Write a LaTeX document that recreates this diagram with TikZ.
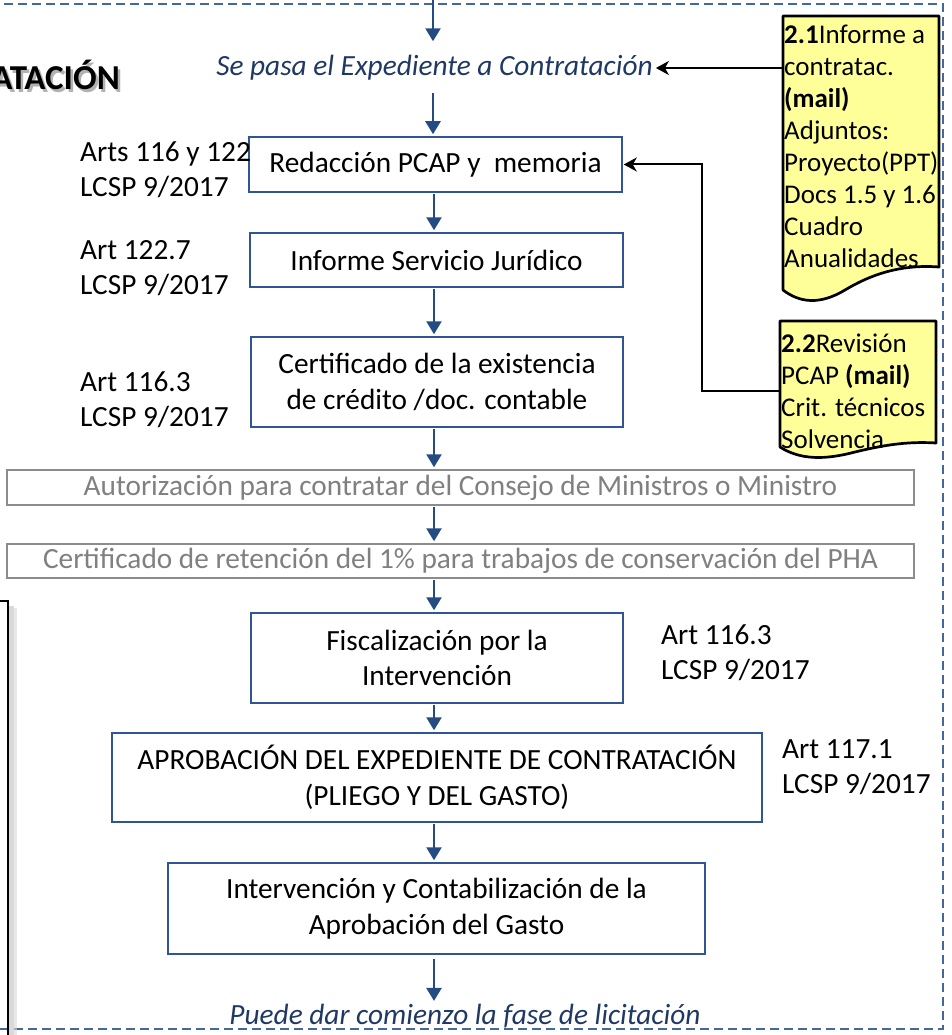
\documentclass[tikz,border=0pt]{standalone}
\usepackage{fontspec}
\setmainfont{Carlito}
\usetikzlibrary{arrows.meta,calc}
\definecolor{frameblue}{RGB}{68,104,155}
\definecolor{arrowblue}{RGB}{36,75,130}
\definecolor{boxblue}{RGB}{47,85,151}
\definecolor{textblue}{RGB}{31,56,100}
\definecolor{docyellow}{RGB}{255,255,153}
\definecolor{graytext}{RGB}{128,128,128}
\definecolor{grayline}{RGB}{140,140,140}
\newcommand\fsmain{\fontsize{29.3}{35.5}\selectfont}
\newcommand\fsdoc{\fontsize{27}{32}\selectfont}
\newcommand\fsgray{\fontsize{29.3}{35}\selectfont}
\begin{document}
\begin{tikzpicture}[x=1pt,y=-1pt,
  box/.style={draw=boxblue,line width=1.5pt,fill=white,inner sep=0pt,align=center,font=\fsmain},
  gbox/.style={draw=grayline,line width=1.5pt,fill=white,inner sep=0pt,align=center,font=\fsgray,text=graytext},
  lab/.style={font=\fsmain,align=flush left,inner sep=0pt,anchor=base west,text width=200pt},
  doctext/.style={font=\fsdoc,align=flush left,inner sep=0pt,anchor=base west,text width=170pt},
  docshape/.style={fill=docyellow,draw=black,line width=2.7pt,line join=round},
  note/.style={font=\fsmain\itshape,text=textblue,inner sep=0pt},
  barrow/.style={draw=arrowblue,line width=2.5pt,-{Triangle[length=13pt,width=15pt]}},
  blk/.style={draw=black,line width=2pt,-{Stealth[length=13pt,width=14pt,inset=4pt]}}]
\useasboundingbox (0,0) rectangle (951,1035);

% dashed frame
\draw[frameblue,line width=2.3pt,dash pattern=on 9pt off 5pt] (-10,4) -- (943,4) -- (943,1029) -- (-10,1029);

% left black box (cut off)
\fill[black!25,opacity=0.6] (8,606) rectangle (14,1040);
\fill[black!15,opacity=0.6] (14,608) rectangle (17,1040);
\draw[black,line width=2pt] (-20,601) -- (8,601) -- (8,1040);

% title fragment
\node[font=\fontsize{35}{40}\selectfont\bfseries,text=black!30,anchor=east,inner sep=0pt] (titleshadow) at (122.5,77.5) {ATACIÓN};
\node[font=\fontsize{35}{40}\selectfont\bfseries,anchor=east,inner sep=0pt] (title) at (120,75) {ATACIÓN};

% documents
\draw[docshape] (783,16) -- (939,16) -- (939,267) .. controls (900,264) and (870,275) .. (845,290) .. controls (820,305) and (800,303) .. (783,290) -- cycle;
\draw[docshape] (780,321) -- (936,321) -- (936,443) .. controls (905,441) and (880,446) .. (855,452) .. controls (825,460) and (800,460) .. (780,447) -- cycle;
\node[doctext] (d21) at (784,44) {\textbf{2.1}Informe a\\contratac.\\\textbf{(mail)}\\Adjuntos:\\Proyecto(PPT)\\Docs 1.5 y 1.6\\Cuadro\\Anualidades};
\node[doctext] (d22) at (781,352) {\textbf{2.2}Revisión\\PCAP \textbf{(mail)}\\Crit. técnicos\\Solvencia};

% flow
\coordinate (ax) at (434,0);
\coordinate (topin) at (433,0);
\coordinate (bend) at (702,0);
\node[note] (sepasa) at (434.5,68) {Se pasa el Expediente a Contratación};
\node[box,minimum width=373,minimum height=55] (red) at (435.5,164.5) {Redacción PCAP y\ \ memoria};
\node[box,minimum width=373,minimum height=54] (inf) at (436.5,260) {Informe Servicio Jurídico};
\node[box,minimum width=372,minimum height=90] (cert) at (437,382) {Certificado de la existencia\\de crédito /doc. contable};
\node[gbox,minimum width=907,minimum height=35] (aut) at (460.5,487.5) {Autorización para contratar del Consejo de Ministros o Ministro};
\node[gbox,minimum width=907,minimum height=34] (ret) at (460.5,561) {Certificado de retención del 1\% para trabajos de conservación del PHA};
\node[box,minimum width=372,minimum height=90] (fis) at (437,658) {Fiscalización por la\\Intervención};
\node[box,minimum width=650,minimum height=89] (apr) at (437,777.5) {APROBACIÓN DEL EXPEDIENTE DE CONTRATACIÓN\\(PLIEGO Y DEL GASTO)};
\node[box,minimum width=537,minimum height=91] (intc) at (436.5,908.5) {Intervención y Contabilización de la\\Aprobación del Gasto};
\node[note] (puede) at (465,1016) {Puede dar comienzo la fase de licitación};

% labels
\node[lab] (l1) at (80,161) {Arts 116 y 122\\LCSP 9/2017};
\node[lab] (l2) at (80,259) {Art 122.7\\LCSP 9/2017};
\node[lab] (l3) at (80,391) {Art 116.3\\LCSP 9/2017};
\node[lab] (l4) at (661,644) {Art 116.3\\LCSP 9/2017};
\node[lab] (l5) at (782,758) {Art 117.1\\LCSP 9/2017};

% blue arrows
\draw[barrow,shorten >=14pt] (topin) -- (sepasa.north -| topin);
\draw[barrow,shorten <=12pt,shorten >=2pt] (sepasa.south -| topin) -- (red.north -| topin);
\draw[barrow,shorten <=1pt,shorten >=2pt] (red.south -| ax) -- (inf.north -| ax);
\draw[barrow,shorten <=1pt,shorten >=2pt] (inf.south -| ax) -- (cert.north -| ax);
\draw[barrow,shorten <=1pt,shorten >=2pt] (cert.south -| ax) -- (aut.north -| ax);
\draw[barrow,shorten <=1pt,shorten >=2pt] (aut.south -| ax) -- (ret.north -| ax);
\draw[barrow,shorten <=1pt,shorten >=2pt] (ret.south -| ax) -- (fis.north -| ax);
\draw[barrow,shorten <=1pt,shorten >=2pt] (fis.south -| ax) -- (apr.north -| ax);
\draw[barrow,shorten <=1pt,shorten >=2pt] (apr.south -| ax) -- (intc.north -| ax);
\draw[barrow,shorten <=4pt,shorten >=3pt] (intc.south -| ax) -- (puede.north -| ax);

% black connectors
\draw[blk,shorten >=3pt] (d21.west |- sepasa.east) -- (sepasa.east);
\draw[blk,shorten >=1pt] (d22.west) -- (d22.west -| bend) |- (red.east);
\end{tikzpicture}
\end{document}
